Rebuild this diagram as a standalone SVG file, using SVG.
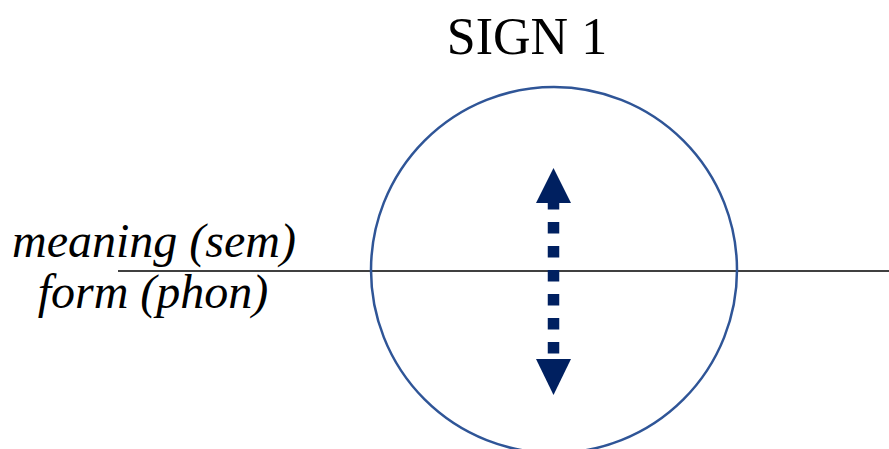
<svg xmlns="http://www.w3.org/2000/svg" width="889" height="449" viewBox="0 0 889 449">
<style>
text{font-family:'Liberation Serif','Times New Roman',Times,serif;fill:#000}
.lbl{font-size:48px;font-style:italic;text-anchor:middle}
.arrow{fill:#002060}
</style>
<rect width="889" height="449" fill="#fff"/>
<g id="title"><text x="527" y="54" font-size="52" text-anchor="middle">SIGN 1</text></g>
<g id="labels">
<text class="lbl" x="154" y="257">meaning (sem)</text>
<text class="lbl" x="153" y="308">form (phon)</text>
</g>
<g id="divider"><line x1="118" y1="271" x2="889" y2="271" stroke="#000" stroke-width="1.3"/></g>
<g id="sign"><circle cx="554" cy="270" r="183" fill="none" stroke="#2F5597" stroke-width="2.5"/></g>
<g id="connectors">
<line x1="553.5" y1="198" x2="553.5" y2="359" stroke="#002060" stroke-width="11.5" stroke-dasharray="11.5 12.5"/>
<polygon class="arrow" points="553.5,168 536,203 571,203"/>
<polygon class="arrow" points="553.5,395 536,359 571,359"/>
</g>
</svg>
